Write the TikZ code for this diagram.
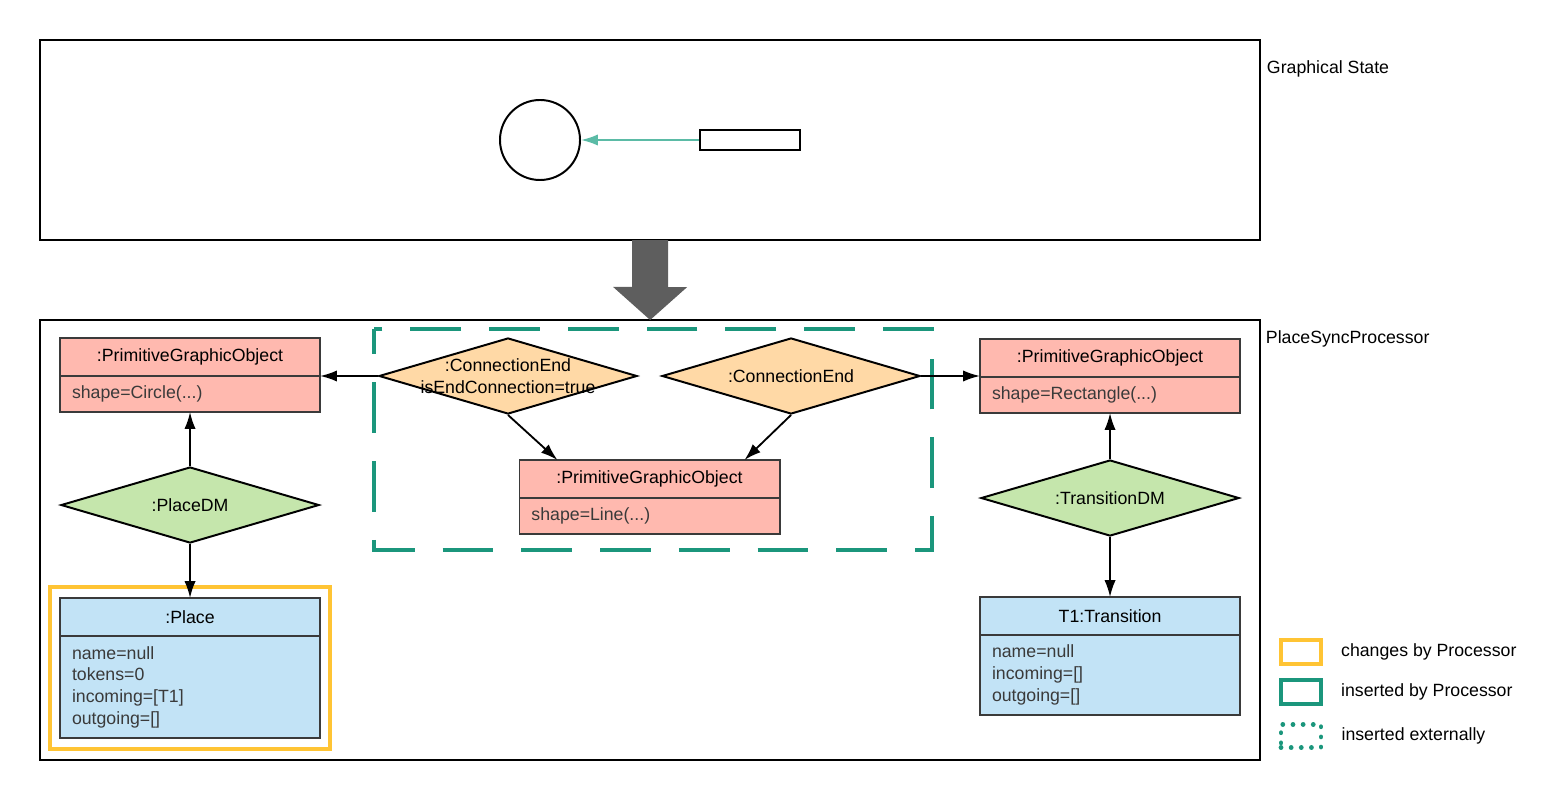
\documentclass[tikz,border=0pt]{standalone}
\usepackage{fontspec}
\setmainfont{Liberation Sans}
\usepackage{tikz}
\usetikzlibrary{shapes.geometric,arrows.meta,positioning,calc,fit,backgrounds}

\definecolor{pgofill}{HTML}{FFB9AF}
\definecolor{dmfill}{HTML}{C5E6AC}
\definecolor{cefill}{HTML}{FFD9A6}
\definecolor{objfill}{HTML}{C2E3F6}
\definecolor{edgegray}{HTML}{3A3A3A}
\definecolor{procteal}{HTML}{1B967C}
\definecolor{procyellow}{HTML}{FFC434}
\definecolor{syncteal}{HTML}{5BBBA6}
\definecolor{fatgray}{HTML}{5E5E5E}

\begin{document}
\begin{tikzpicture}[
    x=0.025cm, y=-0.025cm,
    font=\fontsize{12.6}{15.4}\selectfont,
    >={Latex[length=12pt,width=8pt]},
    % --- node styles ---
    frame/.style = {rectangle, draw=black, line width=1.4pt, anchor=north west,
                    inner sep=0pt, outer sep=0pt},
    framelbl/.style = {anchor=west},
    hdr/.style   = {rectangle, draw=edgegray, line width=1.4pt, outer sep=0pt,
                    minimum width=6.5cm, minimum height=0.95cm,
                    inner sep=0pt, align=center},
    attr/.style  = {rectangle, draw=edgegray, line width=1.4pt, outer sep=0pt,
                    text width=5.9cm, inner xsep=0.3cm, inner ysep=0pt,
                    align=left, text=edgegray},
    dm/.style    = {diamond, draw=black, line width=1.4pt, fill=dmfill,
                    inner sep=0pt, aspect=3.4,
                    minimum width=6.45cm, minimum height=1.9cm},
    ce/.style    = {dm, fill=cefill},
    arrow/.style = {->, line width=1.3pt},
    lgbox/.style = {rectangle, line width=2.8pt, minimum width=1.0cm,
                    minimum height=0.58cm, inner sep=0pt},
]

\useasboundingbox (0,0) rectangle (1560,800);

%============ GRAPHICAL STATE ============
\node (gstate) [frame, minimum width=30.5cm, minimum height=5cm] at (40,40) {};
\node (gstatelbl) [framelbl] at (1262,69) {Graphical State};

\node (gcirc) [circle, draw=black, line width=1.4pt, minimum size=2cm] at (540,140) {};
\node (grect) [rectangle, draw=black, line width=1.4pt, minimum width=2.5cm,
               minimum height=0.5cm] at (750,140) {};
\draw[->, syncteal, line width=1.3pt] (grect) -- (gcirc);

%============ SYNC PROCESSOR ============
\node (sync) [frame, minimum width=30.5cm, minimum height=11cm] at (40,320) {};
\node (synclbl) [framelbl] at (1261,339) {PlaceSyncProcessor};

% big arrow between the two states
\fill[fatgray] ($(gstate.south)+(-18,0)$) -- ++(36,0) -- ++(0,47) -- ++(19,0)
  -- (sync.north) -- ++(-37,-33) -- ++(19,0) -- cycle;

%============ PLACE SIDE ============
\node (pgoL) [hdr, fill=pgofill, anchor=north west] at (60,338)
  {:PrimitiveGraphicObject};
\node (pgoLb) [attr, fill=pgofill, minimum height=0.9cm, below=0pt of pgoL]
  {shape=Circle(...)};

\node (placedm) [dm, below=1.35cm of pgoLb] {:PlaceDM};

\node (place) [hdr, fill=objfill, below=1.35cm of placedm] {:Place};
\node (placeb) [attr, fill=objfill, minimum height=2.55cm, below=0pt of place]
  {name=null\\tokens=0\\incoming=[T1]\\outgoing=[]};

%============ TRANSITION SIDE ============
\node (pgoR) [hdr, fill=pgofill, anchor=north west] at (980,339)
  {:PrimitiveGraphicObject};
\node (pgoRb) [attr, fill=pgofill, minimum height=0.9cm, below=0pt of pgoR]
  {shape=Rectangle(...)};

\node (transdm) [dm, below=1.15cm of pgoRb] {:TransitionDM};

\node (trans) [hdr, fill=objfill, below=1.5cm of transdm] {T1:Transition};
\node (transb) [attr, fill=objfill, minimum height=2.0cm, below=0pt of trans]
  {name=null\\incoming=[]\\outgoing=[]};

%============ CONNECTION ============
\node (ce1) [ce, label={[align=center, inner sep=0pt]center:{:ConnectionEnd\\isEndConnection=true}}]
  at (508,376) {};
\node (ce2) [ce, right=0.575cm of ce1] {:ConnectionEnd};

\node (pgoM) [hdr, fill=pgofill, below=1.125cm of $(ce1.south)!0.5!(ce2.south)$]
  {:PrimitiveGraphicObject};
\node (pgoMb) [attr, fill=pgofill, minimum height=0.9cm, below=0pt of pgoM]
  {shape=Line(...)};

%============ ARROWS ============
\foreach \a/\b in {placedm/pgoLb, transdm/pgoRb}
  \draw[arrow] (\a.north) -- (\b.south);
\foreach \a/\b in {placedm/place, transdm/trans}
  \draw[arrow] (\a.south) -- (\b.north);

\draw[arrow] (ce1.west) -- (ce1.west -| pgoL.east);
\draw[arrow] (ce2.east) -- (ce2.east -| pgoR.west);
\draw[arrow] (ce1.south) -- ($(pgoM.north west)!0.146!(pgoM.north east)$);
\draw[arrow] (ce2.south) -- ($(pgoM.north west)!0.865!(pgoM.north east)$);

%============ GROUP BOXES ============
\begin{scope}[on background layer]
  % inserted by the processor
  \draw[procteal, line width=2.8pt, dash pattern=on 36pt off 20pt, dash phase=18pt]
    (374,329) rectangle (932,550);
  % changed by the processor
  \node (placechg) [draw=procyellow, line width=2.8pt, inner xsep=0.25cm,
                    inner ysep=0.28cm, fit=(place)(placeb)] {};
\end{scope}

%============ LEGEND ============
\node (lgY) [lgbox, draw=procyellow] at (1301,652) {};
\node (lgT) [lgbox, draw=procteal] at (1301,692) {};
\node (lgD) [lgbox, draw=procteal, line width=3.4pt, line cap=round,
             dash pattern=on 0.01pt off 7.2pt] at (1301,736) {};

\node (lgYt) [right=0.33cm of lgY] {changes by Processor};
\node (lgTt) [right=0.33cm of lgT] {inserted by Processor};
\node (lgDt) [right=0.33cm of lgD] {inserted externally};

\end{tikzpicture}
\end{document}
